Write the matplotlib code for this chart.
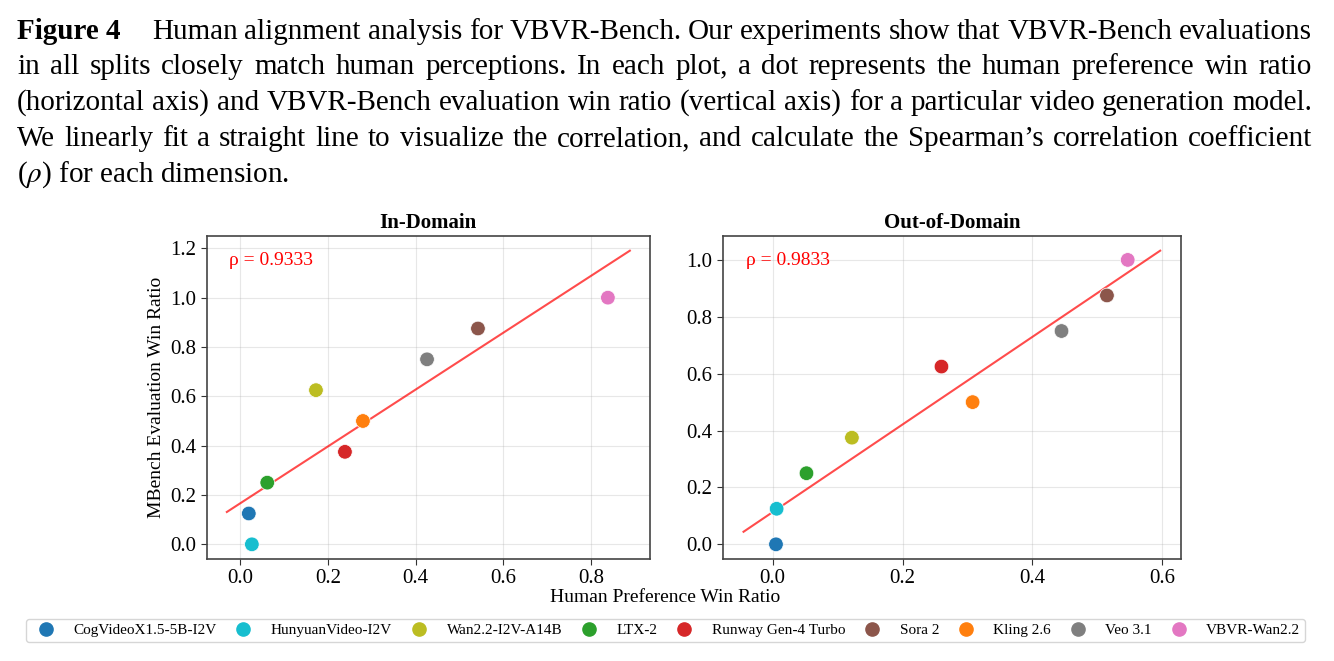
import numpy as np
import pandas as pd
import matplotlib
matplotlib.use("Agg")
import matplotlib.pyplot as plt
from matplotlib.lines import Line2D

plt.rcParams['font.family'] = ['Liberation Serif', 'DejaVu Serif']
plt.rcParams['mathtext.fontset'] = 'stix'

# models, colours (tab10) and win ratios
models = ["CogVideoX1.5-5B-I2V", "HunyuanVideo-I2V", "Wan2.2-I2V-A14B", "LTX-2",
          "Runway Gen-4 Turbo", "Sora 2", "Kling 2.6", "Veo 3.1", "VBVR-Wan2.2"]
colors = ["#1f77b4", "#17becf", "#bcbd22", "#2ca02c", "#d62728",
          "#8c564b", "#ff7f0e", "#7f7f7f", "#e377c2"]

in_human = [0.020, 0.027, 0.173, 0.062, 0.239, 0.542, 0.280, 0.426, 0.838]
in_bench = [0.125, 0.000, 0.625, 0.250, 0.375, 0.875, 0.500, 0.750, 1.000]

out_human = [0.005, 0.006, 0.122, 0.052, 0.260, 0.515, 0.308, 0.445, 0.547]
out_bench = [0.000, 0.125, 0.375, 0.250, 0.625, 0.875, 0.500, 0.750, 1.000]

caption_lines = [
    "Human alignment analysis for VBVR-Bench. Our experiments show that VBVR-Bench evaluations",
    "in all splits closely match human perceptions. In each plot, a dot represents the human preference win ratio",
    "(horizontal axis) and VBVR-Bench evaluation win ratio (vertical axis) for a particular video generation model.",
    "We linearly fit a straight line to visualize the correlation, and calculate the Spearman\u2019s correlation coefficient",
]
caption_last = r"($\rho$) for each dimension."

W, H = 1334, 661
fig = plt.figure(figsize=(W / 100, H / 100), dpi=100)


def spearman(a, b):
    ra = pd.Series(a).rank().values
    rb = pd.Series(b).rank().values
    return np.corrcoef(ra, rb)[0, 1]


def panel(ax, xs, ys, title):
    xs = np.array(xs)
    ys = np.array(ys)
    k, b = np.polyfit(xs, ys, 1)
    lx = np.array([xs.min() - 0.05, xs.max() + 0.05])
    ax.plot(lx, k * lx + b, color='red', alpha=0.7, lw=1.5, zorder=2)
    ax.scatter(xs, ys, c=colors, s=110, edgecolors='white', linewidths=0.5, zorder=3)
    ax.grid(True, alpha=0.3)
    ax.set_axisbelow(True)
    ax.set_title(title, fontsize=15, fontweight='bold', pad=6)
    ax.tick_params(labelsize=15, length=4, color='#333333')
    for s in ax.spines.values():
        s.set_color('#444444')
        s.set_linewidth(1.2)
    rho = spearman(xs, ys)
    ax.text(0.05, 0.925, f"\u03c1 = {rho:.4f}", transform=ax.transAxes,
            color='red', fontsize=14, va='center')


ax1 = fig.add_axes([206.7 / W, 102 / H, 443.3 / W, 323 / H])
ax2 = fig.add_axes([722.7 / W, 102 / H, 458.3 / W, 323 / H])
panel(ax1, in_human, in_bench, "In-Domain")
panel(ax2, out_human, out_bench, "Out-of-Domain")
ax1.set_ylabel("MBench Evaluation Win Ratio", fontsize=14)
ax1.set_yticks([0.0, 0.2, 0.4, 0.6, 0.8, 1.0, 1.2])
ax2.set_yticks([0.0, 0.2, 0.4, 0.6, 0.8, 1.0])
fig.text(665.5 / W, 1 - 598 / H, "Human Preference Win Ratio", fontsize=14,
         ha='center', va='center')

handles = [Line2D([], [], marker='o', ls='none', color=c, markersize=9.5) for c in colors]
fig.legend(handles, models, loc='lower left', ncol=9, mode='expand',
           bbox_to_anchor=(26 / W, 1 - 642 / H, 1279 / W, 24 / H), borderaxespad=0,
           fontsize=11, handletextpad=0.8, borderpad=0.3, frameon=True)

# caption, justified like the paper
fig.canvas.draw()
r = fig.canvas.get_renderer()
cap_size = 21
baselines = [39, 74.5, 110, 146, 181.5]


def justify(text, y, x0, x1):
    words = text.split(" ")
    ts = [fig.text(0, 1 - y / H, w, fontsize=cap_size, va='baseline') for w in words]
    ws = [t.get_window_extent(r).width for t in ts]
    gap = (x1 - x0 - sum(ws)) / (len(words) - 1)
    x = x0
    for t, w in zip(ts, ws):
        t.set_x(x / W)
        x += w + gap


fig.text(17 / W, 1 - baselines[0] / H, "Figure 4", fontsize=cap_size,
         fontweight='bold', va='baseline')
justify(caption_lines[0], baselines[0], 152, 1312)
for line, y in zip(caption_lines[1:], baselines[1:4]):
    justify(line, y, 17, 1312)
fig.text(17 / W, 1 - baselines[4] / H, caption_last, fontsize=cap_size, va='baseline')

fig.savefig("out.png", dpi=100)
